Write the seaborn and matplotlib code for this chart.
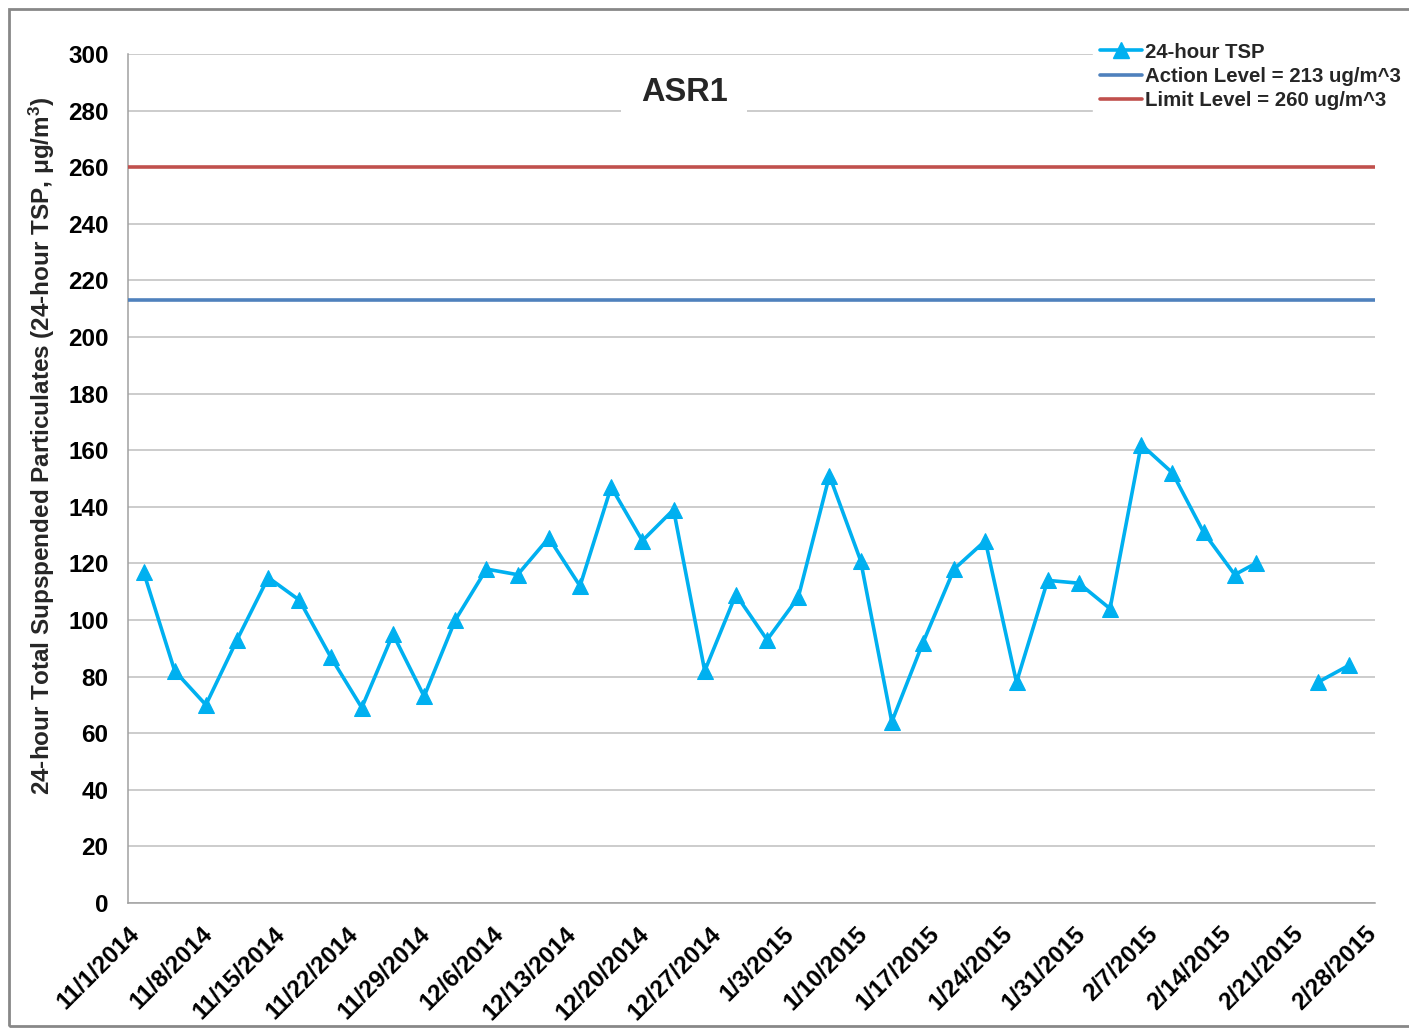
import numpy as np
import pandas as pd
import matplotlib
matplotlib.use("Agg")
import matplotlib.pyplot as plt
from matplotlib.lines import Line2D
from matplotlib.patches import Rectangle
import seaborn as sns

dates = ["2014-11-02", "2014-11-05", "2014-11-08", "2014-11-11", "2014-11-14", "2014-11-17",
         "2014-11-20", "2014-11-23", "2014-11-26", "2014-11-29", "2014-12-02", "2014-12-05",
         "2014-12-08", "2014-12-11", "2014-12-14", "2014-12-17", "2014-12-20", "2014-12-23",
         "2014-12-26", "2014-12-29", "2015-01-01", "2015-01-04", "2015-01-07", "2015-01-10",
         "2015-01-13", "2015-01-16", "2015-01-19", "2015-01-22", "2015-01-25", "2015-01-28",
         "2015-01-31", "2015-02-03", "2015-02-06", "2015-02-09", "2015-02-12", "2015-02-15",
         "2015-02-17", "2015-02-20", "2015-02-23", "2015-02-26"]
tsp = [117, 82, 70, 93, 115, 107, 87, 69, 95, 73, 100, 118,
       116, 129, 112, 147, 128, 139, 82, 109, 93, 108, 151, 121,
       64, 92, 118, 128, 78, 114, 113, 104, 162, 152, 131, 116,
       120, np.nan, 78, 84]
action_level = 213
limit_level = 260
series_labels = ["24-hour TSP", "Action Level = 213 ug/m^3", "Limit Level = 260 ug/m^3"]
title = "ASR1"
ylabel = "24-hour Total Supspended Particulates (24-hour TSP, \u03bcg/m$^3$)"
tick_start, tick_end = "2014-11-01", "2015-02-28"

sns.set_theme(style="white")
plt.rcParams["font.family"] = ["Liberation Sans", "DejaVu Sans"]
plt.rcParams["font.weight"] = "bold"
plt.rcParams["mathtext.fontset"] = "custom"
plt.rcParams["mathtext.rm"] = "Liberation Sans:bold"
plt.rcParams["mathtext.default"] = "rm"

df = pd.DataFrame({"date": pd.to_datetime(dates), "tsp": tsp})
df["x"] = df["date"] + pd.Timedelta(hours=12)
df["seg"] = df["tsp"].isna().cumsum()
df = df.dropna()

fig = plt.figure(figsize=(14.09, 10.28), dpi=100)
ax = fig.add_axes([0.0908, 0.1216, 0.8851, 0.8259])

blue_c = "#00B0F0"
sns.lineplot(data=df, x="x", y="tsp", units="seg", estimator=None, ax=ax,
             color=blue_c, linewidth=2.6, marker="^", markersize=12,
             markeredgecolor=blue_c, legend=False, zorder=5)
ax.axhline(action_level, color="#4F81BD", linewidth=2.6, zorder=4)
ax.axhline(limit_level, color="#C0504D", linewidth=2.6, zorder=4)

fs = 17.5
ax.set_ylim(0, 300)
ax.set_yticks(np.arange(0, 301, 20))
ax.set_xlim(pd.Timestamp("2014-11-01"), pd.Timestamp("2015-03-01"))
ticks = pd.date_range(tick_start, tick_end, freq="7D")
ax.set_xticks(ticks)
ax.set_xticklabels([f"{d.month}/{d.day}/{d.year}" for d in ticks], rotation=45,
                   ha="right", rotation_mode="anchor", fontsize=fs, fontweight="bold")
for lab in ax.get_yticklabels():
    lab.set_fontsize(fs)
    lab.set_fontweight("bold")
ax.grid(axis="y", color="#BEBEBE", linewidth=1.1)
ax.set_axisbelow(True)
for s in ["top", "right"]:
    ax.spines[s].set_visible(False)
for s in ["left", "bottom"]:
    ax.spines[s].set_color("#A0A0A0")
    ax.spines[s].set_linewidth(1.1)
ax.tick_params(axis="both", which="both", direction="out", length=7, width=1.1,
               color="#A0A0A0", labelcolor="black")
ax.tick_params(axis="y", length=8, pad=6)
ax.tick_params(axis="x", pad=7)
ax.set_xlabel("")
ax.set_ylabel(ylabel, fontsize=fs, fontweight="bold")
ax.yaxis.set_label_coords(-0.057, 0.539)

ax.text(0.446, 0.955, title, transform=ax.transAxes, ha="center", va="center",
        fontsize=23.5, fontweight="bold",
        bbox=dict(facecolor="white", edgecolor="none", boxstyle="square,pad=0.6"),
        zorder=6)

handles = [Line2D([], [], color=blue_c, linewidth=2.6, marker="^", markersize=11),
           Line2D([], [], color="#4F81BD", linewidth=2.6),
           Line2D([], [], color="#C0504D", linewidth=2.6)]
leg = fig.legend(handles, series_labels, loc="upper left", bbox_to_anchor=(0.7757, 0.9655),
                 frameon=True, fancybox=False, framealpha=1, edgecolor="white",
                 handlelength=2.06, handletextpad=0.15, labelspacing=0.25,
                 borderpad=0.35, borderaxespad=0.0, prop={"weight": "bold", "size": 14.7})
leg.get_frame().set_facecolor("white")
leg.set_zorder(10)

fig.patches.append(Rectangle((9 / 1409, 2 / 1028), 1.05, 1 - 11 / 1028, transform=fig.transFigure,
                             fill=False, edgecolor="#888888", linewidth=2))

fig.savefig("out.png", dpi=100)
